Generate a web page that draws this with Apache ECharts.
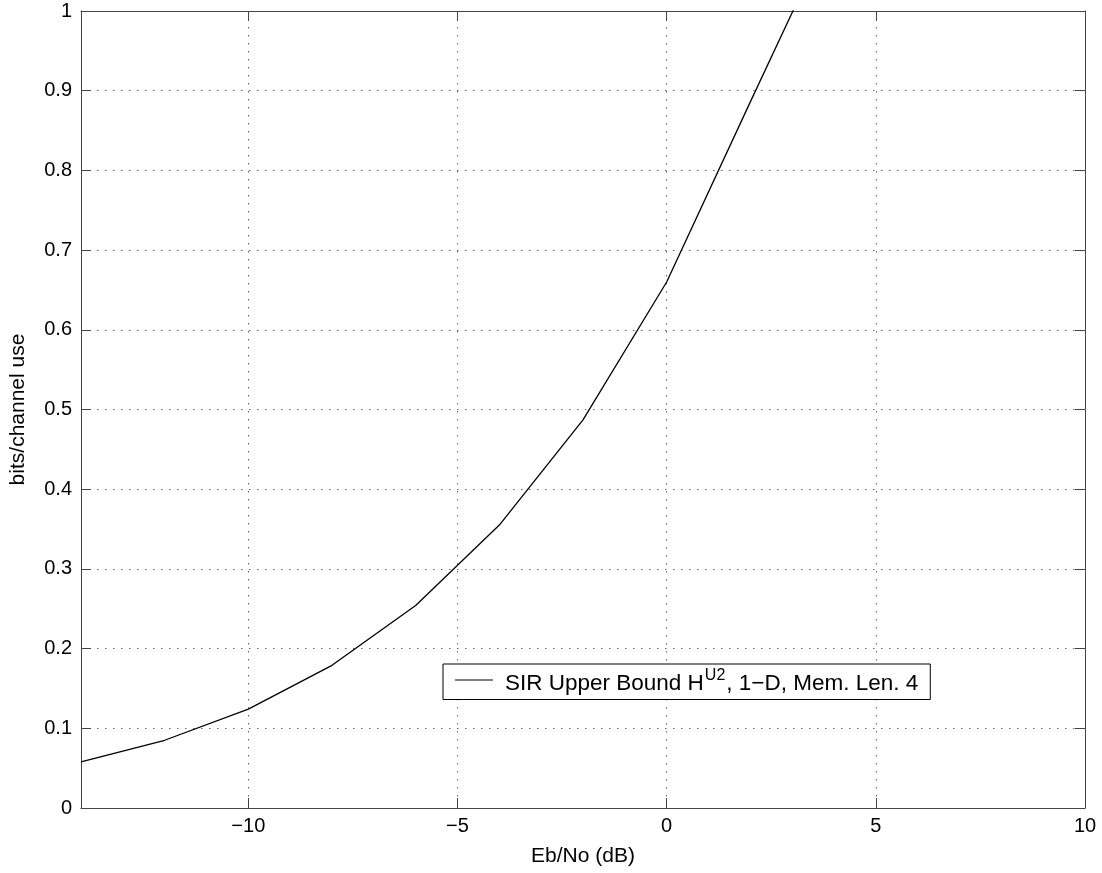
<!DOCTYPE html>
<html>
<head>
<meta charset="utf-8">
<script src="https://cdn.jsdelivr.net/npm/echarts@6/dist/echarts.min.js"></script>
<style>
  html, body { margin: 0; padding: 0; background: #fff; }
  #chart { width: 1102px; height: 873px; }
</style>
</head>
<body>
<div id="chart"></div>
<script>
// SIR upper bound curve (last point lies above the 1.0 clip)
const ebNo = [-14, -12, -10, -8, -6, -4, -2, 0, 2, 4];
const bitsPerUse = [0.058, 0.085, 0.124, 0.179, 0.254, 0.355, 0.487, 0.660, 0.886, 1.11];
const xTicks = [-10, -5, 0, 5, 10];
const xRange = [-14, 10];
const yRange = [0, 1];

const FONT = '"Liberation Sans", Arial, Helvetica, sans-serif';
const minus = v => String(v).replace('-', '\u2212');
const dotted = { color: '#666', width: 1, type: [1.5, 6.5] };
const boxLine = { show: true, onZero: false, lineStyle: { color: '#444', width: 1 } };

const chart = echarts.init(document.getElementById('chart'));

chart.setOption({
  animation: false,
  backgroundColor: '#fff',
  grid: { left: 80, right: 17, top: 11, bottom: 65 },
  legend: {
    left: 443, top: 664,
    padding: [4, 12, 4, 12],
    borderColor: '#000', borderWidth: 1,
    backgroundColor: '#fff',
    itemWidth: 38, itemHeight: 1,
    formatter: () => '{b|SIR Upper Bound H}{sup|U2}{a|, 1\u2212D, Mem. Len. 4}',
    textStyle: {
      fontFamily: FONT, color: '#000',
      rich: {
        b: { fontFamily: FONT, fontSize: 22.5, color: '#000', padding: [8, 0, 0, 7] },
        a: { fontFamily: FONT, fontSize: 22.5, color: '#000', padding: [8, 0, 0, 0] },
        sup: { fontFamily: FONT, fontSize: 16, color: '#000', padding: [0, 1, 8, 1] }
      }
    },
    data: [{ name: 'SIR', icon: 'rect', itemStyle: { color: '#000' } }]
  },
  xAxis: [{
    type: 'value', position: 'bottom',
    min: xRange[0], max: xRange[1],
    name: 'Eb/No (dB)', nameLocation: 'middle', nameGap: 38,
    nameTextStyle: { fontFamily: FONT, fontSize: 21, color: '#000' },
    axisLine: boxLine,
    axisTick: { show: true, inside: true, length: 10, customValues: xTicks, lineStyle: { color: '#444' } },
    axisLabel: { customValues: xTicks, fontFamily: FONT, fontSize: 20, color: '#000', margin: 8, formatter: minus },
    splitLine: { show: true, customValues: xTicks, lineStyle: dotted }
  }, {
    type: 'value', position: 'top',
    min: xRange[0], max: xRange[1],
    axisLine: boxLine,
    axisTick: { show: true, inside: true, length: 10, customValues: xTicks, lineStyle: { color: '#444' } },
    axisLabel: { show: false },
    splitLine: { show: false }
  }],
  yAxis: [{
    type: 'value', position: 'left',
    min: yRange[0], max: yRange[1], interval: 0.1,
    name: 'bits/channel use', nameLocation: 'middle', nameGap: 52,
    nameTextStyle: { fontFamily: FONT, fontSize: 21, color: '#000' },
    axisLine: boxLine,
    axisTick: { show: true, inside: true, length: 10, lineStyle: { color: '#444' } },
    axisLabel: { fontFamily: FONT, fontSize: 20, color: '#000', margin: 9,
      formatter: v => String(Math.round(v * 10) / 10) },
    splitLine: { show: true, lineStyle: dotted }
  }, {
    type: 'value', position: 'right',
    min: yRange[0], max: yRange[1], interval: 0.1,
    axisLine: boxLine,
    axisTick: { show: true, inside: true, length: 10, lineStyle: { color: '#444' } },
    axisLabel: { show: false },
    splitLine: { show: false }
  }],
  series: [{
    name: 'SIR', type: 'line',
    xAxisIndex: 0, yAxisIndex: 0,
    symbol: 'none', clip: true,
    lineStyle: { color: '#000', width: 1.3 },
    itemStyle: { color: '#000' },
    data: ebNo.map((x, i) => [x, bitsPerUse[i]])
  }]
});
</script>
</body>
</html>
